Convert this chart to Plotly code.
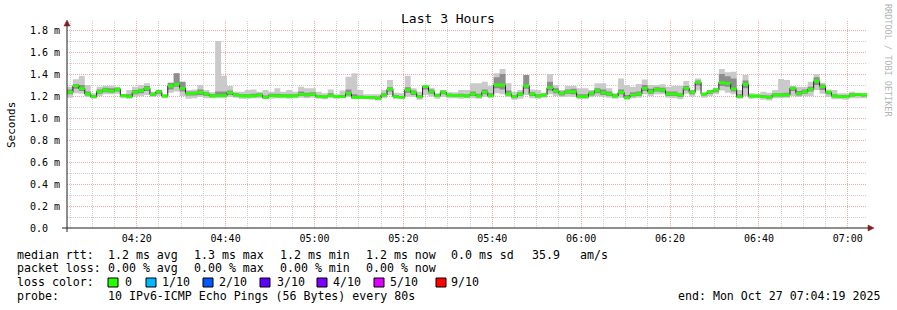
import pandas as pd
import plotly.graph_objects as go

# ---------------- data ----------------
title_text = "Last 3 Hours"
start_time = "2025-10-27 04:04:19"
step_seconds = 80

median_ms = [
    1.234, 1.294, 1.267, 1.218, 1.194, 1.239, 1.255, 1.245, 1.261, 1.203,
    1.194, 1.234, 1.248, 1.270, 1.215, 1.239, 1.200, 1.291, 1.306, 1.270,
    1.224, 1.224, 1.234, 1.218, 1.200, 1.203, 1.203, 1.230, 1.210, 1.200,
    1.200, 1.200, 1.210, 1.188, 1.203, 1.200, 1.200, 1.200, 1.200, 1.215,
    1.210, 1.215, 1.194, 1.194, 1.203, 1.194, 1.194, 1.224, 1.188, 1.188,
    1.188, 1.188, 1.179, 1.209, 1.261, 1.194, 1.188, 1.255, 1.230, 1.194,
    1.285, 1.239, 1.203, 1.234, 1.209, 1.203, 1.203, 1.200, 1.218, 1.200,
    1.234, 1.203, 1.300, 1.300, 1.218, 1.194, 1.218, 1.291, 1.218, 1.200,
    1.209, 1.276, 1.245, 1.224, 1.239, 1.239, 1.194, 1.194, 1.224, 1.248,
    1.230, 1.218, 1.200, 1.234, 1.185, 1.210, 1.218, 1.270, 1.239, 1.261,
    1.255, 1.218, 1.218, 1.209, 1.270, 1.234, 1.324, 1.218, 1.239, 1.255,
    1.321, 1.315, 1.264, 1.194, 1.306, 1.200, 1.200, 1.194, 1.188, 1.209,
    1.209, 1.209, 1.270, 1.224, 1.239, 1.261, 1.336, 1.285, 1.234, 1.200,
    1.194, 1.194, 1.209, 1.215, 1.209, 1.209,
]

ping_max_ms = [
    1.285, 1.352, 1.382, 1.300, 1.224, 1.285, 1.294, 1.294, 1.285, 1.215,
    1.255, 1.285, 1.300, 1.315, 1.239, 1.255, 1.215, 1.321, 1.406, 1.320,
    1.255, 1.260, 1.300, 1.255, 1.234, 1.700, 1.385, 1.290, 1.239, 1.239,
    1.255, 1.260, 1.239, 1.255, 1.239, 1.270, 1.239, 1.255, 1.239, 1.285,
    1.270, 1.270, 1.239, 1.224, 1.260, 1.215, 1.250, 1.376, 1.406, 1.255,
    1.215, 1.215, 1.215, 1.255, 1.345, 1.230, 1.224, 1.385, 1.270, 1.239,
    1.294, 1.276, 1.224, 1.255, 1.234, 1.234, 1.255, 1.255, 1.315, 1.315,
    1.330, 1.294, 1.406, 1.445, 1.315, 1.239, 1.255, 1.390, 1.260, 1.255,
    1.230, 1.400, 1.300, 1.255, 1.290, 1.294, 1.270, 1.270, 1.255, 1.315,
    1.315, 1.270, 1.224, 1.360, 1.300, 1.285, 1.309, 1.350, 1.300, 1.300,
    1.306, 1.285, 1.294, 1.294, 1.336, 1.255, 1.360, 1.224, 1.255, 1.275,
    1.445, 1.415, 1.420, 1.255, 1.390, 1.224, 1.218, 1.239, 1.230, 1.255,
    1.355, 1.345, 1.290, 1.285, 1.285, 1.330, 1.400, 1.320, 1.260, 1.255,
    1.224, 1.224, 1.239, 1.224, 1.224, 1.224,
]

ping_min_ms = [
    1.185, 1.225, 1.220, 1.190, 1.175, 1.200, 1.215, 1.215, 1.220, 1.180,
    1.175, 1.190, 1.200, 1.210, 1.190, 1.200, 1.180, 1.230, 1.240, 1.200,
    1.175, 1.180, 1.190, 1.180, 1.180, 1.180, 1.180, 1.190, 1.185, 1.175,
    1.175, 1.180, 1.180, 1.170, 1.175, 1.180, 1.180, 1.175, 1.180, 1.185,
    1.180, 1.185, 1.175, 1.170, 1.180, 1.175, 1.180, 1.190, 1.170, 1.175,
    1.170, 1.165, 1.160, 1.180, 1.210, 1.170, 1.175, 1.195, 1.190, 1.165,
    1.210, 1.195, 1.175, 1.190, 1.180, 1.180, 1.175, 1.180, 1.180, 1.175,
    1.190, 1.180, 1.225, 1.215, 1.190, 1.165, 1.175, 1.210, 1.180, 1.175,
    1.185, 1.215, 1.200, 1.190, 1.195, 1.190, 1.170, 1.170, 1.190, 1.200,
    1.190, 1.185, 1.175, 1.185, 1.165, 1.180, 1.185, 1.215, 1.200, 1.215,
    1.215, 1.185, 1.180, 1.170, 1.220, 1.195, 1.250, 1.185, 1.200, 1.215,
    1.250, 1.230, 1.215, 1.175, 1.200, 1.175, 1.180, 1.165, 1.160, 1.180,
    1.180, 1.185, 1.200, 1.190, 1.200, 1.200, 1.255, 1.220, 1.190, 1.170,
    1.170, 1.165, 1.180, 1.180, 1.180, 1.180,
]

inner_hi_ms = [
    1.260, 1.310, 1.300, 1.240, 1.210, 1.260, 1.275, 1.270, 1.275, 1.215,
    1.215, 1.255, 1.265, 1.290, 1.230, 1.255, 1.210, 1.320, 1.406, 1.330,
    1.240, 1.240, 1.260, 1.235, 1.215, 1.240, 1.240, 1.250, 1.225, 1.215,
    1.215, 1.220, 1.225, 1.205, 1.220, 1.220, 1.215, 1.215, 1.215, 1.240,
    1.230, 1.235, 1.210, 1.205, 1.225, 1.205, 1.210, 1.260, 1.215, 1.205,
    1.200, 1.200, 1.195, 1.225, 1.280, 1.210, 1.200, 1.280, 1.250, 1.210,
    1.294, 1.260, 1.215, 1.250, 1.220, 1.215, 1.220, 1.215, 1.240, 1.220,
    1.260, 1.225, 1.370, 1.400, 1.250, 1.210, 1.235, 1.390, 1.235, 1.215,
    1.220, 1.330, 1.270, 1.240, 1.260, 1.265, 1.215, 1.215, 1.240, 1.270,
    1.260, 1.240, 1.215, 1.260, 1.210, 1.235, 1.240, 1.300, 1.265, 1.280,
    1.275, 1.240, 1.240, 1.225, 1.290, 1.250, 1.340, 1.224, 1.250, 1.265,
    1.400, 1.380, 1.360, 1.215, 1.340, 1.210, 1.210, 1.210, 1.205, 1.225,
    1.225, 1.230, 1.285, 1.245, 1.260, 1.285, 1.370, 1.305, 1.245, 1.215,
    1.210, 1.210, 1.225, 1.225, 1.220, 1.220,
]

inner_lo_ms = [
    1.215, 1.265, 1.245, 1.205, 1.185, 1.220, 1.235, 1.230, 1.240, 1.190,
    1.185, 1.215, 1.225, 1.245, 1.200, 1.220, 1.190, 1.260, 1.285, 1.240,
    1.205, 1.205, 1.210, 1.200, 1.190, 1.190, 1.190, 1.210, 1.195, 1.190,
    1.188, 1.190, 1.195, 1.180, 1.190, 1.190, 1.190, 1.188, 1.190, 1.200,
    1.195, 1.200, 1.185, 1.180, 1.190, 1.185, 1.185, 1.205, 1.180, 1.180,
    1.178, 1.178, 1.170, 1.195, 1.240, 1.182, 1.180, 1.230, 1.210, 1.180,
    1.260, 1.220, 1.190, 1.215, 1.195, 1.190, 1.190, 1.188, 1.200, 1.188,
    1.215, 1.190, 1.270, 1.260, 1.205, 1.180, 1.200, 1.265, 1.200, 1.188,
    1.195, 1.250, 1.225, 1.205, 1.220, 1.215, 1.182, 1.182, 1.205, 1.225,
    1.210, 1.200, 1.188, 1.215, 1.175, 1.195, 1.200, 1.245, 1.220, 1.240,
    1.235, 1.200, 1.200, 1.190, 1.250, 1.215, 1.295, 1.205, 1.220, 1.235,
    1.290, 1.285, 1.240, 1.182, 1.270, 1.188, 1.188, 1.182, 1.175, 1.195,
    1.195, 1.195, 1.245, 1.205, 1.220, 1.240, 1.300, 1.255, 1.215, 1.188,
    1.182, 1.182, 1.195, 1.200, 1.195, 1.195,
]

y_tick_values = [0.0, 0.2, 0.4, 0.6, 0.8, 1.0, 1.2, 1.4, 1.6, 1.8]
y_tick_labels = ["0.0\u00a0\u00a0", "0.2 m", "0.4 m", "0.6 m", "0.8 m",
                 "1.0 m", "1.2 m", "1.4 m", "1.6 m", "1.8 m"]
y_axis_title = "Seconds"

stats_row1 = ["median rtt:", "1.2 ms avg", "1.3 ms max", "1.2 ms min",
              "1.2 ms now", "0.0 ms sd", "35.9", "am/s"]
stats_row2 = ["packet loss:", "0.00 % avg", "0.00 % max", "0.00 % min", "0.00 % now"]
loss_title = "loss color:"
loss_labels = ["0", "1/10", "2/10", "3/10", "4/10", "5/10", "9/10"]
loss_colors = ["#26ff00", "#00b8ff", "#0059ff", "#5e00ff", "#7e00ff", "#dd00ff", "#ff0000"]
probe_row = ["probe:", "10 IPv6-ICMP Echo Pings (56 Bytes) every 80s"]
end_text = "end: Mon Oct 27 07:04:19 2025"
watermark = "RRDTOOL / TOBI OETIKER"

# ---------------- geometry / style ----------------
W, H = 897, 310
L, R, T, B = 67, 30, 21, 82
PW, PH = W - L - R, H - T - B
Y_MAX = 1.882
MONO = "DejaVu Sans Mono"
GREEN_HALF = 0.013


def px(x):
    return (x - L) / PW


def py(y):
    return (H - B - y) / PH


n = len(median_ms)
times = pd.date_range(start_time, periods=n, freq=f"{step_seconds}s")
xs = times.strftime("%Y-%m-%d %H:%M:%S").tolist()

fig = go.Figure()


def band(lo, hi, color):
    fig.add_trace(go.Scatter(x=xs, y=lo, mode="lines",
                             line=dict(width=0, shape="hv"),
                             hoverinfo="skip", showlegend=False))
    fig.add_trace(go.Scatter(x=xs, y=hi, mode="lines",
                             line=dict(width=0, shape="hv"),
                             fill="tonexty", fillcolor=color,
                             hoverinfo="skip", showlegend=False))


band(ping_min_ms, ping_max_ms, "#cacaca")
band(inner_lo_ms, inner_hi_ms, "#8e8e8e")
fig.add_trace(go.Scatter(x=xs, y=median_ms, mode="lines",
                         line=dict(color="#202020", width=1, shape="hv"),
                         hoverinfo="skip", showlegend=False))
band([m - GREEN_HALF for m in median_ms], [m + GREEN_HALF for m in median_ms], loss_colors[0])

major_grid = "#f0a8a8"
minor_grid = "#cfcfcf"
dash = "1px,1px"

fig.update_layout(
    width=W, height=H,
    margin=dict(l=L, r=R, t=T, b=B, pad=0),
    paper_bgcolor="white", plot_bgcolor="white",
    showlegend=False,
    font=dict(family=MONO, color="#000000"),
    xaxis=dict(
        type="date", range=[xs[0], xs[-1]],
        tick0="2025-10-27 04:00:00", dtick=20 * 60 * 1000,
        tickformat="%H:%M", ticks="", ticklabelstandoff=3,
        tickfont=dict(family=MONO, size=10, color="#000000"),
        showgrid=True, gridcolor=major_grid, griddash=dash, gridwidth=1,
        minor=dict(dtick=5 * 60 * 1000, showgrid=True, gridcolor=minor_grid,
                   griddash=dash, gridwidth=1),
        showline=False, zeroline=False, fixedrange=True,
    ),
    yaxis=dict(
        range=[0, Y_MAX],
        tickmode="array", tickvals=y_tick_values, ticktext=y_tick_labels,
        ticks="", ticklabelstandoff=6,
        tickfont=dict(family=MONO, size=10, color="#000000"),
        showgrid=True, gridcolor=major_grid, griddash=dash, gridwidth=1,
        minor=dict(dtick=0.1, showgrid=True, gridcolor=minor_grid,
                   griddash=dash, gridwidth=1),
        showline=False, zeroline=False, fixedrange=True,
    ),
)

shapes = []
axis_col = "#1f1f1f"
arrow_col = "#801f1f"
# axes
shapes.append(dict(type="line", xref="paper", yref="paper",
                   x0=px(62), x1=px(868), y0=py(228), y1=py(228),
                   line=dict(color=axis_col, width=1)))
shapes.append(dict(type="line", xref="paper", yref="paper",
                   x0=px(67), x1=px(67), y0=py(232), y1=py(24),
                   line=dict(color=axis_col, width=1)))
# arrows
shapes.append(dict(type="path", xref="paper", yref="paper",
                   path=f"M {px(64)},{py(26)} L {px(67)},{py(20)} L {px(70)},{py(26)} Z",
                   fillcolor=arrow_col, line=dict(color=arrow_col, width=0.5)))
shapes.append(dict(type="path", xref="paper", yref="paper",
                   path=f"M {px(868)},{py(225)} L {px(874)},{py(228)} L {px(868)},{py(231)} Z",
                   fillcolor=arrow_col, line=dict(color=arrow_col, width=0.5)))

ann = []


def text(s, x, y, size=11.6, anchor="left", color="#000000", angle=0):
    ann.append(dict(text=s, x=px(x), y=py(y), xref="paper", yref="paper",
                    xanchor=anchor, yanchor="middle", showarrow=False,
                    borderpad=0, textangle=angle,
                    font=dict(family=MONO, size=size, color=color)))


text(title_text, 448, 19, size=13, anchor="center")
text(y_axis_title, 11, 125, size=11, anchor="center", angle=-90)
text(watermark, 888, 60, size=8.5, anchor="center", color="#b4b4b4", angle=90)

row1_x = [16, 107, 193, 279, 365, 450, 531, 579]
for s, x in zip(stats_row1, row1_x):
    text(s, x, 255)
row2_x = [16, 107, 193, 279, 365]
for s, x in zip(stats_row2, row2_x):
    text(s, x, 268)
text(loss_title, 16, 282)
sq_x = [108, 146, 203, 260, 317, 374, 436]
lab_x = [124, 161, 218, 276, 332, 389, 450]
for lab, col, sx, lx in zip(loss_labels, loss_colors, sq_x, lab_x):
    shapes.append(dict(type="rect", xref="paper", yref="paper",
                       x0=px(sx), x1=px(sx + 10), y0=py(287), y1=py(278),
                       fillcolor=col, line=dict(color="#000000", width=1)))
    text(lab, lx, 282)
text(probe_row[0], 16, 296)
text(probe_row[1], 107, 296)
text(end_text, 881, 296, anchor="right")

fig.update_layout(shapes=shapes, annotations=ann)
fig.write_html("out.html")
